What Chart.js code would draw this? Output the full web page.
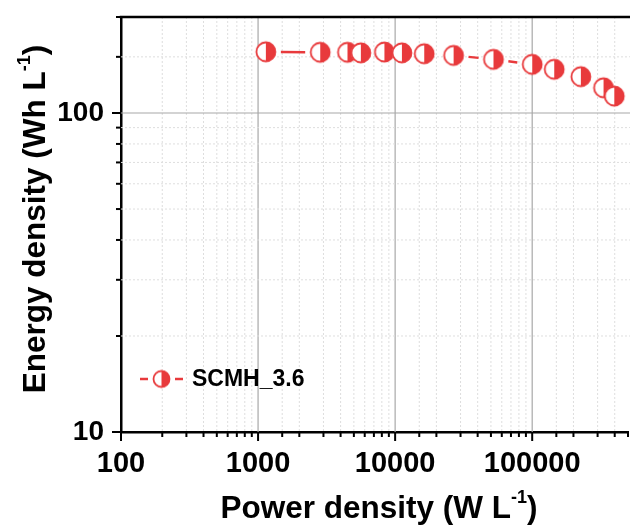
<!DOCTYPE html>
<html>
<head>
<meta charset="utf-8">
<script src="https://cdn.jsdelivr.net/npm/chart.js@4.4.1/dist/chart.umd.min.js"></script>
<style>
html, body { margin: 0; padding: 0; background: #fff; }
#chart { display: block; }
</style>
</head>
<body>
<canvas id="chart" width="630" height="528"></canvas>
<script>
// values (W/L, Wh/L)
const power = [1140, 2840, 4490, 5620, 8350, 11200, 16300, 26700, 52200, 100000, 144700, 226500, 331400, 396900];
const energy = [155.6, 155.0, 155.0, 154.4, 155.3, 154.4, 153.4, 151.6, 147.3, 142.1, 137.1, 130.0, 120.0, 113.0];
const seriesLabel = 'SCMH_3.6';
const xTickLabels = [100, 1000, 10000, 100000];
const yTickLabels = [10, 100];

const RED = '#e83a3c';
const FONT = "'Liberation Sans', Arial, sans-serif";

function isMajor(v, list) {
  return list.some(t => Math.abs(t - v) / t < 1e-6);
}

/* half filled circle: left white, right red */
function makeMarker(r) {
  const size = Math.ceil(r * 2 + 4);
  const c = document.createElement('canvas');
  c.width = size; c.height = size;
  const g = c.getContext('2d');
  const m = size / 2;
  g.fillStyle = '#fff';
  g.beginPath(); g.arc(m, m, r, 0, Math.PI * 2); g.fill();
  g.fillStyle = RED;
  g.beginPath(); g.arc(m, m, r, -Math.PI / 2, Math.PI / 2); g.closePath(); g.fill();
  g.strokeStyle = RED;
  g.lineWidth = 1.8;
  g.beginPath(); g.arc(m, m, r - 0.5, 0, Math.PI * 2); g.stroke();
  return c;
}

const bigMarker = makeMarker(10);
const smallMarker = makeMarker(8.5);

/* grid, tick marks, top frame and the gapped connecting line */
const axisDecor = {
  id: 'axisDecor',
  beforeDatasetsDraw(chart) {
    const { ctx, chartArea: a, scales: { x, y } } = chart;
    ctx.save();
    // grid
    x.ticks.forEach(t => {
      const px = x.getPixelForValue(t.value);
      if (px <= a.left + 1 || px >= a.right - 1) return;
      const major = isMajor(t.value, xTickLabels);
      ctx.strokeStyle = major ? '#a8a8a8' : '#dedede';
      ctx.lineWidth = major ? 1.2 : 1;
      ctx.setLineDash(major ? [] : [2, 2]);
      ctx.beginPath(); ctx.moveTo(px, a.top); ctx.lineTo(px, a.bottom); ctx.stroke();
    });
    y.ticks.forEach(t => {
      const py = y.getPixelForValue(t.value);
      if (py <= a.top + 1 || py >= a.bottom - 1) return;
      const major = isMajor(t.value, yTickLabels);
      ctx.strokeStyle = major ? '#a8a8a8' : '#dedede';
      ctx.lineWidth = major ? 1.2 : 1;
      ctx.setLineDash(major ? [] : [2, 2]);
      ctx.beginPath(); ctx.moveTo(a.left, py); ctx.lineTo(chart.width, py); ctx.stroke();
    });
    ctx.setLineDash([]);
    // tick marks
    ctx.strokeStyle = '#000';
    ctx.lineWidth = 2;
    x.ticks.forEach(t => {
      const px = x.getPixelForValue(t.value);
      const len = isMajor(t.value, xTickLabels) ? 9 : 5;
      ctx.beginPath(); ctx.moveTo(px, a.bottom); ctx.lineTo(px, a.bottom + len); ctx.stroke();
    });
    y.ticks.forEach(t => {
      const py = y.getPixelForValue(t.value);
      const len = isMajor(t.value, yTickLabels) ? 9 : 5;
      ctx.beginPath(); ctx.moveTo(a.left, py); ctx.lineTo(a.left - len, py); ctx.stroke();
    });
    // top frame
    ctx.lineWidth = 2.5;
    ctx.beginPath(); ctx.moveTo(a.left - 1.25, a.top); ctx.lineTo(chart.width, a.top); ctx.stroke();

    // connecting line with gaps around symbols
    const pts = chart.getDatasetMeta(0).data;
    const gap = 15;
    ctx.strokeStyle = RED;
    ctx.lineWidth = 2.5;
    for (let i = 1; i < pts.length; i++) {
      const p0 = pts[i - 1], p1 = pts[i];
      const dx = p1.x - p0.x, dy = p1.y - p0.y;
      const d = Math.hypot(dx, dy);
      if (d <= gap * 2 + 1) continue;
      const ux = dx / d, uy = dy / d;
      ctx.beginPath();
      ctx.moveTo(p0.x + ux * gap, p0.y + uy * gap);
      ctx.lineTo(p1.x - ux * gap, p1.y - uy * gap);
      ctx.stroke();
    }
    ctx.restore();
  },
  afterDraw(chart) {
    const { ctx } = chart;
    ctx.save();
    ctx.fillStyle = '#000';
    ctx.textBaseline = 'alphabetic';

    // x title
    const big = 'bold 31.5px ' + FONT, sup = 'bold 18px ' + FONT;
    const xMain = 'Power density (W L';
    ctx.font = big; const w1 = ctx.measureText(xMain).width; const w3 = ctx.measureText(')').width;
    ctx.font = sup; const w2 = ctx.measureText('-1').width;
    let x0 = 379 - (w1 + w2 + w3) / 2;
    const yb = 518;
    ctx.font = big; ctx.fillText(xMain, x0, yb);
    ctx.font = sup; ctx.fillText('-1', x0 + w1, yb - 15);
    ctx.font = big; ctx.fillText(')', x0 + w1 + w2, yb);

    // y title (rotated)
    const yMain = 'Energy density (Wh L';
    ctx.font = big; const v1 = ctx.measureText(yMain).width;
    ctx.font = sup; const v2 = ctx.measureText('-1').width;
    ctx.translate(45, 219);
    ctx.rotate(-Math.PI / 2);
    let s0 = -(v1 + v2 + w3) / 2;
    ctx.font = big; ctx.fillText(yMain, s0, 0);
    ctx.font = sup; ctx.fillText('-1', s0 + v1, -15);
    ctx.font = big; ctx.fillText(')', s0 + v1 + v2, 0);
    ctx.setTransform(1, 0, 0, 1, 0, 0);

    // legend
    const lx = 161.5, ly = 379;
    ctx.strokeStyle = RED; ctx.lineWidth = 2.5;
    ctx.beginPath(); ctx.moveTo(140, ly); ctx.lineTo(148, ly); ctx.stroke();
    ctx.beginPath(); ctx.moveTo(175, ly); ctx.lineTo(183, ly); ctx.stroke();
    ctx.drawImage(smallMarker, lx - smallMarker.width / 2, ly - smallMarker.height / 2);
    ctx.font = 'bold 23px ' + FONT;
    ctx.textBaseline = 'middle';
    ctx.fillText(chart.data.datasets[0].label, 192, ly + 1);
    ctx.restore();
  }
};

new Chart(document.getElementById('chart'), {
  type: 'scatter',
  data: {
    datasets: [{
      label: seriesLabel,
      data: power.map((p, i) => ({ x: p, y: energy[i] })),
      showLine: false,
      pointStyle: bigMarker,
      pointRadius: 10,
      pointHoverRadius: 10
    }]
  },
  options: {
    responsive: false,
    animation: false,
    devicePixelRatio: 1,
    layout: { autoPadding: false, padding: { left: 0, right: 2, top: 17, bottom: 0 } },
    plugins: { legend: { display: false }, tooltip: { enabled: false } },
    scales: {
      x: {
        type: 'logarithmic',
        min: 100,
        max: 500000,
        grid: { display: false, drawTicks: false },
        border: { display: true, color: '#000', width: 2.5 },
        ticks: {
          autoSkip: false,
          maxRotation: 0,
          padding: 15,
          color: '#000',
          font: { family: FONT, size: 29, weight: 'bold' },
          callback: v => isMajor(v, xTickLabels) ? String(v) : ''
        },
        afterFit: s => { s.height = 96; s.paddingLeft = 0; s.paddingRight = 0; }
      },
      y: {
        type: 'logarithmic',
        min: 10,
        max: 200,
        grid: { display: false, drawTicks: false },
        border: { display: true, color: '#000', width: 2.5 },
        ticks: {
          autoSkip: false,
          padding: 17,
          color: '#000',
          font: { family: FONT, size: 28, weight: 'bold' },
          callback: v => isMajor(v, yTickLabels) ? String(v) : ''
        },
        afterFit: s => { s.width = 121; s.paddingTop = 0; s.paddingBottom = 0; }
      }
    }
  },
  plugins: [axisDecor]
});
</script>
</body>
</html>
